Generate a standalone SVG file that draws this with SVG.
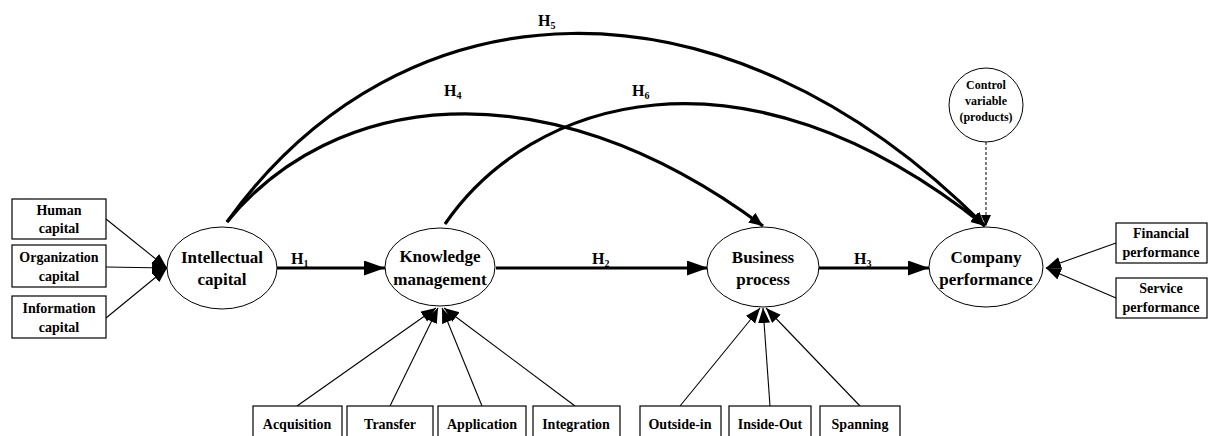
<svg xmlns="http://www.w3.org/2000/svg" width="1209" height="436" viewBox="0 0 1209 436">
<style>
text{font-family:'Liberation Serif','DejaVu Serif',serif;font-weight:700;fill:#000;text-anchor:middle}
.n{font-size:17px}
.b{font-size:14px}
.s{font-size:12px}
.h{font-size:16px;text-anchor:start}
.sub{font-size:10px}
.box{fill:#fff;stroke:#000;stroke-width:1.2}
.ell{fill:#fff;stroke:#000;stroke-width:1}
.thin{fill:none;stroke:#000;stroke-width:1.1;marker-end:url(#ah)}
.thick{fill:none;stroke:#000;stroke-width:3.2;marker-end:url(#AH)}
.arc{fill:none;stroke:#000;stroke-width:3.2;marker-end:url(#AC)}
.dash{fill:none;stroke:#000;stroke-width:1;stroke-dasharray:3,2;marker-end:url(#ad)}
</style>
<defs>
<marker id="ah" markerUnits="userSpaceOnUse" markerWidth="16" markerHeight="14" refX="15" refY="6" orient="auto"><path d="M0,0 L15,6 L0,12 z" fill="#000"/></marker>
<marker id="AH" markerUnits="userSpaceOnUse" markerWidth="22" markerHeight="16" refX="21" refY="7.5" orient="auto"><path d="M0,0 L21,7.5 L0,15 z" fill="#000"/></marker>
<marker id="AC" markerUnits="userSpaceOnUse" markerWidth="16" markerHeight="14" refX="14" refY="6" orient="auto"><path d="M0,0 L14,6 L0,12 z" fill="#000"/></marker>
<marker id="ad" markerUnits="userSpaceOnUse" markerWidth="12" markerHeight="12" refX="11" refY="5" orient="auto"><path d="M0,0 L11,5 L0,10 z" fill="#000"/></marker>
</defs>
<rect width="1209" height="436" fill="#fff"/>
<g id="connectors">
<path class="thin" d="M106,219 L167,268"/>
<path class="thin" d="M106,267 L167,268"/>
<path class="thin" d="M106,318 L167,268"/>
<path class="thin" d="M297,406 L436,308"/>
<path class="thin" d="M390,406 L438,308"/>
<path class="thin" d="M482,406 L442,308"/>
<path class="thin" d="M575,406 L444,308"/>
<path class="thin" d="M680,406 L760,308"/>
<path class="thin" d="M770,406 L763,308"/>
<path class="thin" d="M860,406 L766,308"/>
<path class="thin" d="M1116,243 L1046,268"/>
<path class="thin" d="M1116,298 L1046,268"/>
<path class="thick" d="M277,268 L385,268"/>
<path class="thick" d="M496,268 L708,268"/>
<path class="thick" d="M819,268 L929,268"/>
<path class="arc" d="M227,222 C400,-20 720,-40 985,226"/>
<path class="arc" d="M227,222 C330,95 540,60 763,226"/>
<path class="arc" d="M445,224 C530,100 740,30 985,226"/>
<path class="dash" d="M986,142 L986,226"/>
<text class="h" x="291" y="264">H<tspan class="sub" dy="3">1</tspan></text>
<text class="h" x="592" y="264">H<tspan class="sub" dy="3">2</tspan></text>
<text class="h" x="854" y="264">H<tspan class="sub" dy="3">3</tspan></text>
<text class="h" x="444" y="96">H<tspan class="sub" dy="3">4</tspan></text>
<text class="h" x="538" y="26">H<tspan class="sub" dy="3">5</tspan></text>
<text class="h" x="632" y="96">H<tspan class="sub" dy="3">6</tspan></text>
</g>
<g id="human"><rect class="box" x="12" y="199" width="94" height="40"/><text class="b" x="59" y="215">Human</text><text class="b" x="59" y="233">capital</text></g>
<g id="organization"><rect class="box" x="12" y="245" width="94" height="42"/><text class="b" x="59" y="262">Organization</text><text class="b" x="59" y="281">capital</text></g>
<g id="information"><rect class="box" x="12" y="296" width="94" height="42"/><text class="b" x="59" y="313">Information</text><text class="b" x="59" y="332">capital</text></g>
<g id="intellectual"><ellipse class="ell" cx="222" cy="268" rx="55" ry="41"/><text class="n" x="222" y="263">Intellectual</text><text class="n" x="222" y="285">capital</text></g>
<g id="knowledge"><ellipse class="ell" cx="440" cy="267" rx="55" ry="39"/><text class="n" x="440" y="262">Knowledge</text><text class="n" x="440" y="285">management</text></g>
<g id="business"><ellipse class="ell" cx="763" cy="267" rx="56" ry="40"/><text class="n" x="763" y="263">Business</text><text class="n" x="763" y="285">process</text></g>
<g id="company"><ellipse class="ell" cx="986" cy="267" rx="57" ry="40"/><text class="n" x="986" y="263">Company</text><text class="n" x="986" y="285">performance</text></g>
<g id="control"><ellipse class="ell" cx="986" cy="105" rx="37" ry="37"/><text class="s" x="986" y="89">Control</text><text class="s" x="986" y="105">variable</text><text class="s" x="986" y="121">(products)</text></g>
<g id="financial"><rect class="box" x="1116" y="223" width="91" height="40"/><text class="b" x="1161" y="238">Financial</text><text class="b" x="1161" y="257">performance</text></g>
<g id="service"><rect class="box" x="1116" y="278" width="91" height="40"/><text class="b" x="1161" y="293">Service</text><text class="b" x="1161" y="312">performance</text></g>
<g id="acquisition"><rect class="box" x="253" y="406" width="89" height="40"/><text class="b" x="297" y="429">Acquisition</text></g>
<g id="transfer"><rect class="box" x="347" y="406" width="86" height="40"/><text class="b" x="390" y="429">Transfer</text></g>
<g id="application"><rect class="box" x="438" y="406" width="88" height="40"/><text class="b" x="482" y="429">Application</text></g>
<g id="integration"><rect class="box" x="533" y="406" width="87" height="40"/><text class="b" x="576" y="429">Integration</text></g>
<g id="outside-in"><rect class="box" x="640" y="406" width="81" height="40"/><text class="b" x="680" y="429">Outside-in</text></g>
<g id="inside-out"><rect class="box" x="729" y="406" width="82" height="40"/><text class="b" x="770" y="429">Inside-Out</text></g>
<g id="spanning"><rect class="box" x="820" y="406" width="80" height="40"/><text class="b" x="860" y="429">Spanning</text></g>
</svg>
